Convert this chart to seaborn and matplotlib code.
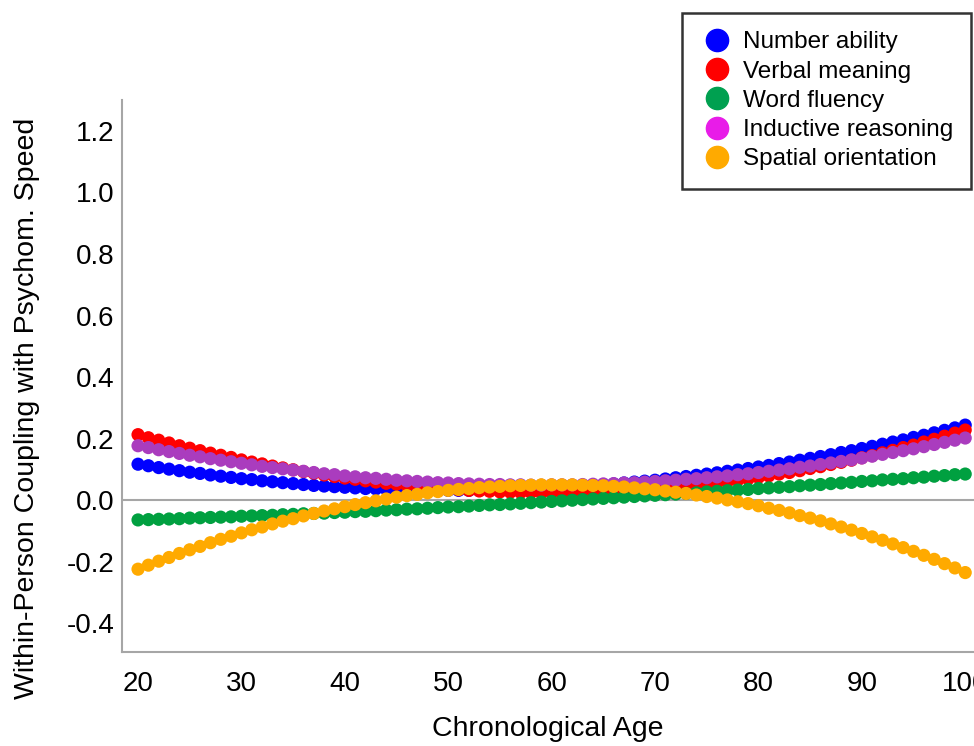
import numpy as np
import pandas as pd
import matplotlib
matplotlib.use("Agg")
import matplotlib.pyplot as plt
from matplotlib.lines import Line2D
import seaborn as sns

# ages 20..100, one point per year
ages = list(range(20, 101))

number_ability = [
    0.117, 0.112, 0.106, 0.101, 0.096, 0.091, 0.087, 0.082, 0.078, 0.074,
    0.070, 0.067, 0.063, 0.060, 0.057, 0.054, 0.051, 0.048, 0.046, 0.044,
    0.042, 0.040, 0.038, 0.037, 0.036, 0.035, 0.034, 0.033, 0.032, 0.032,
    0.032, 0.032, 0.032, 0.032, 0.033, 0.034, 0.035, 0.036, 0.037, 0.038,
    0.040, 0.042, 0.044, 0.046, 0.048, 0.050, 0.053, 0.056, 0.059, 0.062,
    0.065, 0.069, 0.073, 0.077, 0.081, 0.085, 0.089, 0.094, 0.098, 0.103,
    0.108, 0.113, 0.119, 0.124, 0.130, 0.136, 0.142, 0.148, 0.155, 0.161,
    0.168, 0.175, 0.182, 0.189, 0.196, 0.204, 0.211, 0.219, 0.227, 0.235,
    0.244]
verbal_meaning = [
    0.213, 0.203, 0.195, 0.186, 0.177, 0.169, 0.161, 0.153, 0.146, 0.139,
    0.131, 0.124, 0.118, 0.111, 0.105, 0.099, 0.093, 0.088, 0.082, 0.077,
    0.072, 0.068, 0.063, 0.059, 0.055, 0.052, 0.048, 0.045, 0.042, 0.039,
    0.037, 0.034, 0.032, 0.030, 0.029, 0.027, 0.026, 0.025, 0.025, 0.024,
    0.024, 0.024, 0.025, 0.025, 0.026, 0.027, 0.029, 0.030, 0.032, 0.034,
    0.037, 0.039, 0.042, 0.045, 0.049, 0.052, 0.056, 0.060, 0.065, 0.069,
    0.074, 0.079, 0.085, 0.090, 0.096, 0.103, 0.109, 0.116, 0.123, 0.130,
    0.138, 0.145, 0.154, 0.162, 0.171, 0.179, 0.189, 0.198, 0.208, 0.218,
    0.228]
word_fluency = [
    -0.064, -0.063, -0.062, -0.061, -0.060, -0.058, -0.057, -0.056, -0.055, -0.054,
    -0.052, -0.051, -0.050, -0.049, -0.047, -0.046, -0.044, -0.043, -0.042, -0.040,
    -0.039, -0.037, -0.036, -0.034, -0.032, -0.031, -0.029, -0.028, -0.026, -0.024,
    -0.022, -0.021, -0.019, -0.017, -0.015, -0.014, -0.012, -0.010, -0.008, -0.006,
    -0.004, -0.002, 0.000, 0.002, 0.004, 0.006, 0.008, 0.010, 0.012, 0.014,
    0.016, 0.018, 0.020, 0.022, 0.024, 0.027, 0.029, 0.031, 0.033, 0.035,
    0.038, 0.040, 0.042, 0.044, 0.047, 0.049, 0.051, 0.054, 0.056, 0.058,
    0.061, 0.063, 0.066, 0.068, 0.070, 0.073, 0.075, 0.078, 0.080, 0.083,
    0.085]
inductive_reasoning = [
    0.177, 0.171, 0.164, 0.158, 0.152, 0.146, 0.141, 0.135, 0.130, 0.125,
    0.120, 0.115, 0.110, 0.106, 0.102, 0.098, 0.094, 0.090, 0.086, 0.083,
    0.079, 0.076, 0.073, 0.071, 0.068, 0.065, 0.063, 0.061, 0.059, 0.057,
    0.056, 0.054, 0.053, 0.052, 0.051, 0.051, 0.050, 0.050, 0.049, 0.049,
    0.050, 0.050, 0.050, 0.051, 0.052, 0.053, 0.054, 0.056, 0.057, 0.059,
    0.061, 0.063, 0.065, 0.068, 0.070, 0.073, 0.076, 0.079, 0.083, 0.086,
    0.090, 0.094, 0.098, 0.102, 0.107, 0.111, 0.116, 0.121, 0.126, 0.131,
    0.137, 0.143, 0.149, 0.155, 0.161, 0.167, 0.174, 0.181, 0.188, 0.195,
    0.202]
spatial_orientation = [
    -0.224, -0.211, -0.198, -0.186, -0.173, -0.161, -0.150, -0.138, -0.127, -0.117,
    -0.106, -0.096, -0.087, -0.077, -0.068, -0.060, -0.051, -0.043, -0.035, -0.028,
    -0.021, -0.014, -0.008, -0.002, 0.004, 0.010, 0.015, 0.019, 0.024, 0.028,
    0.032, 0.035, 0.038, 0.041, 0.043, 0.045, 0.047, 0.048, 0.049, 0.050,
    0.050, 0.050, 0.050, 0.049, 0.048, 0.047, 0.045, 0.043, 0.040, 0.037,
    0.034, 0.030, 0.026, 0.022, 0.017, 0.012, 0.007, 0.001, -0.005, -0.011,
    -0.018, -0.026, -0.033, -0.041, -0.050, -0.058, -0.067, -0.077, -0.087, -0.097,
    -0.108, -0.119, -0.130, -0.142, -0.154, -0.166, -0.179, -0.192, -0.206, -0.220,
    -0.235]

names = ["Number ability", "Verbal meaning", "Word fluency",
         "Inductive reasoning", "Spatial orientation"]
series = [number_ability, verbal_meaning, word_fluency,
          inductive_reasoning, spatial_orientation]
dot_colors = ["#0000FF", "#FF0000", "#00A040", "#AA3CBE", "#FFAA00"]
key_colors = ["#0000FF", "#FF0000", "#00A050", "#E81CE8", "#FFAA00"]

# long format, in legend order so later series sit on top
df = pd.DataFrame({
    "age": ages * len(names),
    "value": np.concatenate(series),
    "ability": np.repeat(names, len(ages)),
})

sns.set_style("white")
plt.rcParams["font.family"] = ["Liberation Sans", "DejaVu Sans"]
plt.rcParams["text.color"] = "black"
plt.rcParams["xtick.labelcolor"] = "black"
plt.rcParams["ytick.labelcolor"] = "black"
plt.rcParams["axes.labelcolor"] = "black"

fig = plt.figure(figsize=(9.74, 7.46), dpi=100)
ax = fig.add_axes([122 / 974, 94 / 746, 852 / 974, 552 / 746])

grey = "#A6A6A6"
ax.axhline(0, color=grey, lw=1.5, zorder=1)
sns.scatterplot(data=df, x="age", y="value", hue="ability", hue_order=names,
                palette=dot_colors, s=90, linewidth=0, legend=False, ax=ax, zorder=3)

ax.set_xlim(18.45, 100.85)
ax.set_ylim(-0.493, 1.30)
yticks = np.arange(-0.4, 1.21, 0.2)
ax.set_xticks(range(20, 101, 10))
ax.set_yticks(yticks)
ax.set_yticklabels([f"{t:.1f}" for t in yticks])
for s in ["top", "right"]:
    ax.spines[s].set_visible(False)
for s in ["left", "bottom"]:
    ax.spines[s].set_color(grey)
    ax.spines[s].set_linewidth(1.5)
ax.tick_params(axis="x", length=7, width=1.2, color=grey, pad=7, labelsize=20)
ax.tick_params(axis="y", length=3.5, width=1.2, color=grey, pad=2, labelsize=20)

ax.set_xlabel("Chronological Age", fontsize=20.5)
ax.set_ylabel("Within-Person Coupling with Psychom. Speed", fontsize=20.5)
ax.xaxis.set_label_coords(0.5, -0.116)
ax.yaxis.set_label_coords(-0.096, 0.442)

# legend with big round keys, box runs to the right edge like the original
handles = [Line2D([], [], marker="o", ls="", color=c, markersize=16) for c in key_colors]
leg = fig.legend(handles, names, loc="upper left", bbox_to_anchor=(682 / 974, 1 - 13 / 746),
                 fontsize=17.5, frameon=True, fancybox=False, borderpad=0.75,
                 handlelength=1.4, handletextpad=0.35, labelspacing=0.3, borderaxespad=0)
leg.get_frame().set_edgecolor("black")
leg.get_frame().set_linewidth(1.8)

fig.savefig("out.png", dpi=100)
